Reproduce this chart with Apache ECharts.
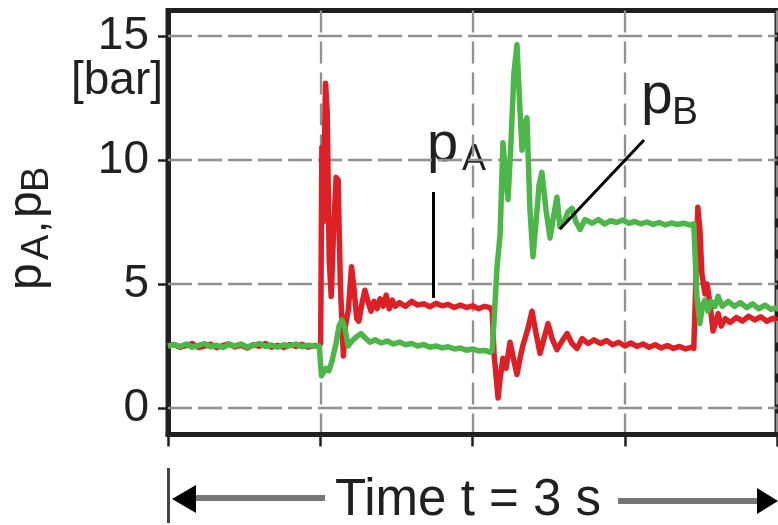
<!DOCTYPE html>
<html>
<head>
<meta charset="utf-8">
<script src="https://cdn.jsdelivr.net/npm/echarts@6/dist/echarts.min.js"></script>
<style>
html,body{margin:0;padding:0;background:#fff;}
#chart{width:778px;height:525px;}
</style>
</head>
<body>
<div id="chart"></div>
<script>
// Time axis (seconds) and tick values
const xTicks = [0, 0.75, 1.5, 2.25, 3];
const yTicks = [0, 5, 10, 15];

// p_A (red) – time [s] and pressure [bar]
const tA = [0,0.03,0.06,0.09,0.12,0.15,0.18,0.21,0.24,0.27,0.30,0.33,0.36,0.39,0.42,0.45,0.48,0.51,0.54,0.57,0.60,0.63,0.66,0.69,0.72,0.745,
  0.752,0.758,0.764,0.776,0.784,0.794,0.804,0.815,0.828,0.838,0.849,0.864,0.872,0.889,0.904,0.914,0.93,0.94,0.955,0.97,0.985,1.0,1.015,1.03,1.045,1.06,1.075,1.09,1.105,1.12,
  1.14,1.17,1.2,1.23,1.26,1.29,1.32,1.35,1.38,1.41,1.44,1.47,1.50,1.53,1.56,1.585,
  1.597,1.606,1.616,1.626,1.636,1.65,1.665,1.685,1.704,1.719,1.734,1.749,1.773,1.793,1.813,1.833,1.852,1.872,1.892,1.916,1.941,1.966,1.99,2.015,2.04,2.069,2.099,
  2.13,2.16,2.19,2.22,2.25,2.28,2.31,2.34,2.37,2.40,2.43,2.46,2.49,2.52,2.55,2.58,
  2.59,2.6,2.61,2.62,2.63,2.645,2.655,2.67,2.685,2.7,2.71,2.725,2.745,
  2.77,2.80,2.83,2.86,2.89,2.92,2.95,2.98,3.0];
const pA = [2.5,2.56,2.45,2.52,2.6,2.44,2.5,2.57,2.43,2.52,2.58,2.46,2.53,2.42,2.55,2.49,2.6,2.45,2.52,2.44,2.56,2.48,2.57,2.45,2.52,2.5,
  2.6,10.5,7.5,13.1,12.0,6.0,4.5,7.0,9.3,9.2,5.0,2.1,3.2,4.0,5.7,5.0,3.6,3.5,4.2,4.75,4.3,3.9,4.3,4.0,4.4,4.1,4.55,4.0,4.35,4.1,
  4.25,4.1,4.3,4.15,4.2,4.08,4.22,4.12,4.18,4.05,4.15,4.05,4.12,4.0,4.1,4.05,
  3.9,2.2,1.3,0.4,1.2,2.0,1.6,2.65,1.9,1.35,2.0,2.55,3.2,3.9,3.0,2.2,2.8,3.4,2.8,2.35,2.7,3.0,2.6,2.4,2.8,2.6,2.75,
  2.6,2.72,2.55,2.65,2.5,2.62,2.48,2.58,2.45,2.55,2.42,2.52,2.4,2.48,2.38,2.45,
  2.4,5.0,8.1,7.2,5.4,4.6,5.0,4.2,3.1,3.5,3.8,3.3,3.6,
  3.45,3.65,3.5,3.7,3.55,3.68,3.5,3.62,3.55];

// p_B (green) – time [s] and pressure [bar]
const tB = [0,0.03,0.06,0.09,0.12,0.15,0.18,0.21,0.24,0.27,0.30,0.33,0.36,0.39,0.42,0.45,0.48,0.51,0.54,0.57,0.60,0.63,0.66,0.69,0.72,0.745,
  0.756,0.764,0.778,0.793,0.808,0.828,0.842,0.857,0.872,0.887,0.906,0.926,0.95,0.975,0.995,
  1.02,1.05,1.08,1.11,1.14,1.17,1.20,1.23,1.26,1.29,1.32,1.35,1.38,1.41,1.44,1.47,1.50,1.53,1.56,1.585,
  1.597,1.606,1.621,1.636,1.65,1.665,1.675,1.69,1.704,1.719,1.734,1.744,1.759,1.768,1.783,1.798,1.813,1.828,1.842,1.862,1.882,1.901,1.916,1.931,1.951,1.97,1.99,2.01,2.03,2.054,
  2.09,2.12,2.15,2.18,2.21,2.24,2.27,2.30,2.33,2.36,2.39,2.42,2.45,2.48,2.51,2.54,2.57,2.59,
  2.6,2.605,2.62,2.635,2.645,2.66,2.675,2.695,2.71,2.73,
  2.76,2.79,2.82,2.85,2.88,2.91,2.94,2.97,3.0];
const pB = [2.5,2.55,2.48,2.58,2.45,2.52,2.6,2.47,2.53,2.44,2.56,2.5,2.58,2.46,2.52,2.6,2.48,2.54,2.45,2.55,2.5,2.58,2.47,2.53,2.5,2.5,
  1.3,1.25,1.6,1.5,1.9,2.6,3.3,3.55,3.2,2.5,2.7,2.85,3.0,2.8,2.65,
  2.75,2.62,2.7,2.58,2.66,2.55,2.6,2.5,2.56,2.45,2.5,2.42,2.47,2.38,2.42,2.33,2.38,2.3,2.32,2.25,
  2.3,3.5,5.7,7.0,10.7,9.2,8.4,10.8,13.5,14.65,12.0,10.4,11.5,11.7,8.0,6.1,7.5,9.0,9.5,8.0,6.85,7.8,8.5,7.3,7.5,7.9,8.05,7.5,7.2,7.6,
  7.45,7.6,7.42,7.55,7.48,7.58,7.45,7.52,7.42,7.5,7.4,7.48,7.38,7.46,7.4,7.45,7.38,7.42,
  5.5,4.5,3.4,4.2,4.35,3.9,4.3,4.1,4.5,4.1,
  4.3,4.1,4.25,4.05,4.2,4.0,4.15,3.98,4.05];

const FONT = '"Liberation Sans", Arial, Helvetica, sans-serif';
const INK = '#231f20';
const GRID = '#909090';

const chart = echarts.init(document.getElementById('chart'), null, {renderer: 'canvas'});

// text placed by its baseline (converted to a middle anchor)
const txt = (x, baseline, s, size, align) => ({
  type: 'text', x: x, y: baseline - 0.35 * size, silent: true,
  style: {text: s, font: size + 'px ' + FONT, fill: INK, align: align || 'left', verticalAlign: 'middle'}
});

const option = {
  animation: false,
  backgroundColor: '#fff',
  grid: {left: 168, right: 1, top: 10.5, bottom: 90.5, show: true, borderColor: INK, borderWidth: 5, containLabel: false},
  xAxis: {
    type: 'value', min: xTicks[0], max: xTicks[xTicks.length - 1], interval: 0.75,
    axisLine: {show: true, onZero: false, lineStyle: {color: INK, width: 5}},
    axisTick: {show: true, inside: false, length: 12, lineStyle: {color: INK, width: 2.5}},
    axisLabel: {show: false},
    splitLine: {show: true, lineStyle: {color: GRID, width: 2.3, type: [22, 9]}}
  },
  yAxis: {
    type: 'value', min: -1.07, max: 16.03,
    axisLine: {show: true, onZero: false, lineStyle: {color: INK, width: 5}},
    axisTick: {show: true, length: 10, customValues: yTicks, lineStyle: {color: INK, width: 2.5}},
    axisLabel: {show: true, customValues: yTicks, margin: 19, fontSize: 46, fontFamily: FONT, color: INK},
    splitLine: {show: false}
  },
  series: [
    {
      type: 'line', data: [], z: 1, silent: true,
      markLine: {
        silent: true, symbol: 'none', z: 1, animation: false,
        label: {show: false},
        lineStyle: {color: GRID, width: 2.3, type: [24, 6]},
        data: yTicks.map(v => ({yAxis: v}))
      }
    },
    {
      name: 'pA', type: 'line', z: 2, showSymbol: false, symbol: 'none', smooth: false,
      lineStyle: {color: '#dd1f26', width: 5.5, join: 'round'},
      data: tA.map((t, i) => [t, pA[i]]),
      markLine: {
        silent: true, symbol: 'none', z: 6, label: {show: false},
        lineStyle: {color: '#000', width: 3, type: 'solid'},
        data: [[{coord: [1.305, 8.71]}, {coord: [1.305, 4.44]}]]
      }
    },
    {
      name: 'pB', type: 'line', z: 3, showSymbol: false, symbol: 'none', smooth: false,
      lineStyle: {color: '#4cb748', width: 5.5, join: 'round'},
      data: tB.map((t, i) => [t, pB[i]]),
      markLine: {
        silent: true, symbol: 'none', z: 6, label: {show: false},
        lineStyle: {color: '#000', width: 3, type: 'solid'},
        data: [[{coord: [2.345, 10.81]}, {coord: [1.931, 7.22]}]]
      }
    }
  ],
  graphic: [
    // unit
    txt(163, 97, '[bar]', 46, 'right'),
    // axis title pA, pB (rotated, reads bottom to top)
    {
      type: 'group', x: 45, y: 290, rotation: Math.PI / 2, silent: true,
      children: [
        txt(0, 0, 'p', 48),
        txt(30, 6, 'A', 38),
        txt(57, 4, ',', 44),
        txt(72, 0, 'p', 48),
        txt(98, 6, 'B', 38)
      ]
    },
    // annotations
    txt(427, 165, 'p', 56),
    txt(462, 173, 'A', 36),
    txt(641, 117, 'p', 57),
    txt(672, 127, 'B', 39),
    // time arrow
    {type: 'line', silent: true, shape: {x1: 168.5, y1: 468, x2: 168.5, y2: 523}, style: {stroke: '#444', lineWidth: 3}},
    {type: 'line', silent: true, shape: {x1: 194, y1: 498, x2: 325, y2: 498}, style: {stroke: '#767676', lineWidth: 6}},
    {type: 'polygon', silent: true, shape: {points: [[172, 499], [196, 485], [196, 513]]}, style: {fill: '#000'}},
    {type: 'line', silent: true, shape: {x1: 618, y1: 501, x2: 759, y2: 501}, style: {stroke: '#767676', lineWidth: 6}},
    {type: 'polygon', silent: true, shape: {points: [[778, 501], [757, 488], [757, 514]]}, style: {fill: '#000'}},
    txt(468, 519, 'Time t = 3 s', 51, 'center')
  ]
};
chart.setOption(option);
</script>
</body>
</html>
